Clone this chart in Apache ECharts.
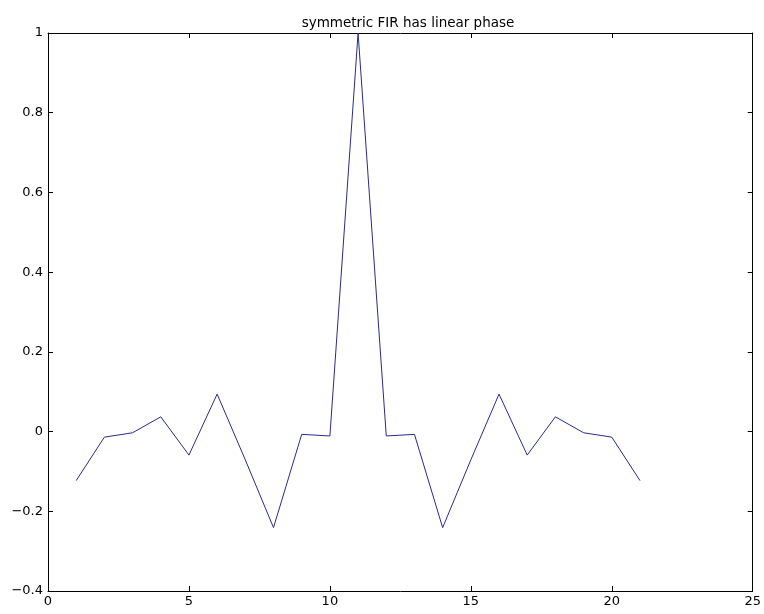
<!DOCTYPE html>
<html>
<head>
<meta charset="utf-8">
<script src="https://cdn.jsdelivr.net/npm/echarts@6/dist/echarts.min.js"></script>
<style>
  html, body { margin: 0; padding: 0; background: #fff; }
  #chart { width: 764px; height: 614px; }
</style>
</head>
<body>
<div id="chart"></div>
<script>
// sample index n = 1..21 and the filter taps h[n]
const samples = [1, 2, 3, 4, 5, 6, 7, 8, 9, 10, 11, 12, 13, 14, 15, 16, 17, 18, 19, 20, 21]
const taps = [-0.123, -0.014, -0.003, 0.037, -0.059, 0.094, -0.071, -0.241, -0.007, -0.011, 1.0,
  -0.011, -0.007, -0.241, -0.071, 0.094, -0.059, 0.037, -0.003, -0.014, -0.123]
const xTicks = [0, 5, 10, 15, 20, 25]
const yTicks = [-0.4, -0.2, 0, 0.2, 0.4, 0.6, 0.8, 1]

const font = '"DejaVu Sans", Verdana, sans-serif'
const axisColor = '#000'

const chart = echarts.init(document.getElementById('chart'))

const boxAxis = (extra) => Object.assign({
  type: 'value',
  axisLine: { show: true, onZero: false, lineStyle: { color: axisColor, width: 1 } },
  axisTick: { show: true, inside: true, length: 5, lineStyle: { color: axisColor } },
  splitLine: { show: false }
}, extra)

chart.setOption({
  animation: false,
  backgroundColor: '#fff',
  title: {
    text: 'symmetric FIR has linear phase',
    left: 403,
    top: 11,
    textAlign: 'center',
    textStyle: { fontFamily: font, fontSize: 13.5, fontWeight: 'normal', color: '#000' }
  },
  grid: { left: 48, right: 7, top: 33, bottom: 23 },
  xAxis: [
    boxAxis({
      position: 'bottom',
      min: xTicks[0],
      max: xTicks[xTicks.length - 1],
      interval: 5,
      axisLabel: { color: '#000', fontFamily: font, fontSize: 13, margin: 4 }
    }),
    boxAxis({
      position: 'top',
      min: xTicks[0],
      max: xTicks[xTicks.length - 1],
      interval: 5,
      axisLabel: { show: false }
    })
  ],
  yAxis: [
    boxAxis({
      position: 'left',
      min: yTicks[0],
      max: yTicks[yTicks.length - 1],
      interval: 0.2,
      axisLabel: {
        color: '#000', fontFamily: font, fontSize: 13, margin: 5,
        formatter: v => String(Math.round(v * 10) / 10).replace('-', '\u2212')
      }
    }),
    boxAxis({
      position: 'right',
      min: yTicks[0],
      max: yTicks[yTicks.length - 1],
      interval: 0.2,
      axisLabel: { show: false }
    })
  ],
  series: [
    {
      type: 'line',
      data: samples.map((n, i) => [n, taps[i]]),
      showSymbol: false,
      lineStyle: { color: '#2a2a8c', width: 1 },
      clip: false
    }
  ]
})
</script>
</body>
</html>
